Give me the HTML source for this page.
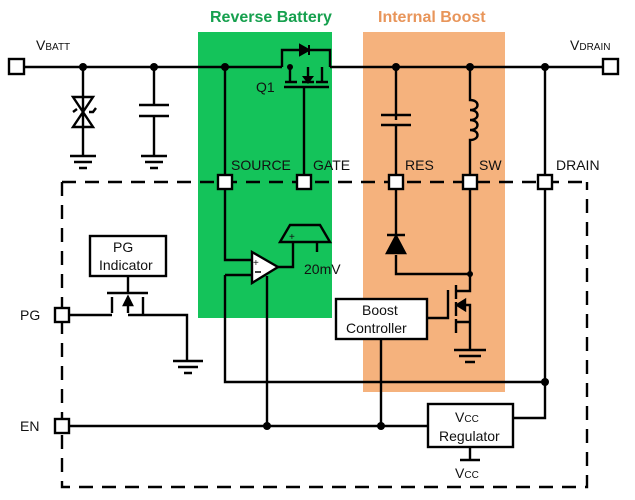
<!DOCTYPE html>
<html><head><style>
body{margin:0;background:#fff}
svg{display:block}
text{font-family:"Liberation Sans",Arial,sans-serif;fill:#111}
</style></head><body>
<svg width="635" height="500" viewBox="0 0 635 500" xmlns="http://www.w3.org/2000/svg">
<rect x="198" y="32" width="134" height="286" fill="#14c35a"/>
<rect x="363" y="32" width="142" height="360" fill="#f5b27d"/>
<text x="210" y="22" font-size="16" font-weight="bold" style="fill:#16a04e">Reverse Battery</text>
<text x="378" y="22" font-size="16" font-weight="bold" style="fill:#e8955a">Internal Boost</text>
<g stroke="#000" stroke-width="2.4" fill="none">
<path d="M62 182 H587 M62 182 V487 H587 V182" stroke-dasharray="14,9"/>
<path d="M24 67 H282 M282 67 V50 H330 V67 M290 67 V82 M322 67 V82 M308 67 V82 M330 67 H603"/>
<path d="M285 82 H297 M302 82 H314 M316 82 H328 M284 87 H329 M304 87 V182"/>
<path d="M83 67 V155 M73 97 H93 L83 112 L73 127 H93 L83 112 Z M73 112 L77 109 M89 112 H93 L96 108"/>
<path d="M70 156 H96 M74 162 H92 M79 168 H87"/>
<path d="M154 67 V105 M139 105 H169 M139 116 H169 M154 116 V155 M141 156 H167 M145 162 H163 M150 168 H158"/>
<path d="M225 67 V260 H252 M225 275 H252 M225 275 V382 H545"/>
<path d="M252 252 L278 267 L252 283 Z" fill="#fff"/>
<path d="M278 267 H293 V242 M267 276 V426"/>
<path d="M290 225 H320 L330 242 H280 Z"/>
<path d="M317 242 V252"/>
<path d="M396 67 V120 M381 115 H411 M381 125 H411 M396 125 V235 M387 235 H405 M396 255 V274 H470"/>
<path d="M396 236 L387 253 H405 Z" fill="#000"/>
<path d="M470 67 V100 C480 100 480 110 470 110 C480 110 480 120 470 120 C480 120 480 130 470 130 C480 130 480 140 470 140 V291 H456 M456 285 V299 M456 302 V316 M456 319 V333 M448 290 V318 H427 M456 305 H470 V350 M456 322 H470"/>
<path d="M457 305 L465 300 V310 Z" fill="#000"/>
<path d="M454 350 H486 M459 356 H481 M465 362 H475"/>
<path d="M545 67 V418 H513"/>
<path d="M69 426 H428 M381 338 V426 M470 447 V460 M460 460 H480"/>
<path d="M128 276 V293 M107 293 H148 M112 297 V313 M128 297 V313 M143 297 V313 M69 315 H112 M128 315 H187 V360 M143 313 V315 M173 361 H203 M178 367 H198 M184 373 H192"/>
<path d="M128 297 L124 305 H132 Z" fill="#000"/>
<path d="M255 272 H261" stroke-width="1.5"/>
</g>
<g fill="#000">
<circle cx="83" cy="67" r="4"/><circle cx="154" cy="67" r="4"/><circle cx="225" cy="67" r="4"/>
<circle cx="290" cy="67" r="3"/><circle cx="396" cy="67" r="4"/><circle cx="470" cy="67" r="4"/><circle cx="545" cy="67" r="4"/>
<circle cx="470" cy="274" r="3"/><circle cx="545" cy="382" r="4"/><circle cx="267" cy="426" r="4"/><circle cx="381" cy="426" r="4"/>
<path d="M302 76 L314 76 L308 84 Z"/>
<path d="M300 45 L309 50 L300 55 Z M309 45 V55" stroke="#000" stroke-width="2"/>
</g>
<g fill="#fff" stroke="#000" stroke-width="2.4">
<rect x="9" y="59" width="15" height="15"/><rect x="603" y="59" width="15" height="15"/>
<rect x="218" y="175" width="14" height="14"/><rect x="297" y="175" width="14" height="14"/>
<rect x="389" y="175" width="14" height="14"/><rect x="463" y="175" width="14" height="14"/>
<rect x="538" y="175" width="14" height="14"/>
<rect x="55" y="308" width="14" height="14"/><rect x="55" y="419" width="14" height="14"/>
<rect x="90" y="236" width="76" height="40"/>
<rect x="336" y="299" width="91" height="40"/>
<rect x="428" y="404" width="85" height="43"/>
</g>
<g font-size="14">
<text x="36" y="50">V<tspan font-size="10">BATT</tspan></text>
<text x="570" y="50">V<tspan font-size="10">DRAIN</tspan></text>
<text x="256" y="92">Q1</text>
<text x="231" y="170">SOURCE</text>
<text x="313" y="170">GATE</text>
<text x="405" y="170">RES</text>
<text x="479" y="170">SW</text>
<text x="556" y="170">DRAIN</text>
<text x="304" y="274">20mV</text>
<text x="113" y="252">PG</text>
<text x="99" y="270">Indicator</text>
<text x="362" y="315">Boost</text>
<text x="346" y="333">Controller</text>
<text x="455" y="422">V<tspan font-size="10">CC</tspan></text>
<text x="439" y="441">Regulator</text>
<text x="455" y="478">V<tspan font-size="10">CC</tspan></text>
<text x="20" y="320">PG</text>
<text x="20" y="431">EN</text>
<text x="253" y="266" font-size="10">+</text>
<text x="289" y="240" font-size="10">+</text>
</g>
</svg>
</body></html>
